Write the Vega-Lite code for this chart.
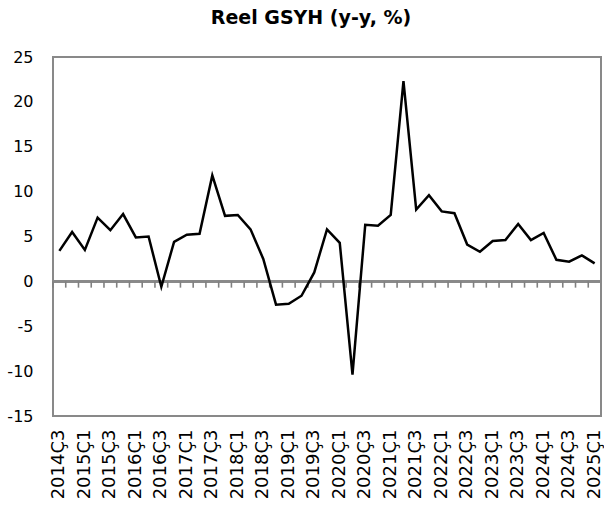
{
  "$schema": "https://vega.github.io/schema/vega-lite/v6.json",
  "autosize": {"type": "none"},
  "width": 548,
  "height": 359,
  "padding": {"left": 53, "top": 57, "right": 3, "bottom": 90},
  "background": "white",
  "title": {
    "text": "Reel GSYH (y-y, %)",
    "font": "DejaVu Sans",
    "fontSize": 19,
    "fontWeight": "bold",
    "color": "#000000",
    "anchor": "middle",
    "baseline": "bottom",
    "offset": 28,
    "dx": -16,
    "dy": 26
  },
  "config": {
    "view": {"stroke": "#898989", "strokeWidth": 2},
    "axis": {"labelFont": "DejaVu Sans", "labelColor": "#000000"}
  },
  "data": {
    "values": [
      {"q": "2014Ç3", "v": 3.4},
      {"q": "2014Ç4", "v": 5.5},
      {"q": "2015Ç1", "v": 3.5},
      {"q": "2015Ç2", "v": 7.1},
      {"q": "2015Ç3", "v": 5.7},
      {"q": "2015Ç4", "v": 7.5},
      {"q": "2016Ç1", "v": 4.9},
      {"q": "2016Ç2", "v": 5.0},
      {"q": "2016Ç3", "v": -0.6},
      {"q": "2016Ç4", "v": 4.4},
      {"q": "2017Ç1", "v": 5.2},
      {"q": "2017Ç2", "v": 5.3},
      {"q": "2017Ç3", "v": 11.8},
      {"q": "2017Ç4", "v": 7.3},
      {"q": "2018Ç1", "v": 7.4},
      {"q": "2018Ç2", "v": 5.8},
      {"q": "2018Ç3", "v": 2.5},
      {"q": "2018Ç4", "v": -2.6},
      {"q": "2019Ç1", "v": -2.5},
      {"q": "2019Ç2", "v": -1.6},
      {"q": "2019Ç3", "v": 1.0},
      {"q": "2019Ç4", "v": 5.8},
      {"q": "2020Ç1", "v": 4.3},
      {"q": "2020Ç2", "v": -10.4},
      {"q": "2020Ç3", "v": 6.3},
      {"q": "2020Ç4", "v": 6.2},
      {"q": "2021Ç1", "v": 7.4},
      {"q": "2021Ç2", "v": 22.3},
      {"q": "2021Ç3", "v": 8.0},
      {"q": "2021Ç4", "v": 9.6},
      {"q": "2022Ç1", "v": 7.8},
      {"q": "2022Ç2", "v": 7.6},
      {"q": "2022Ç3", "v": 4.1},
      {"q": "2022Ç4", "v": 3.3},
      {"q": "2023Ç1", "v": 4.5},
      {"q": "2023Ç2", "v": 4.6},
      {"q": "2023Ç3", "v": 6.4},
      {"q": "2023Ç4", "v": 4.6},
      {"q": "2024Ç1", "v": 5.4},
      {"q": "2024Ç2", "v": 2.4},
      {"q": "2024Ç3", "v": 2.2},
      {"q": "2024Ç4", "v": 2.9},
      {"q": "2025Ç1", "v": 2.0}
    ]
  },
  "encoding": {
    "x": {
      "field": "q",
      "type": "ordinal",
      "sort": null,
      "scale": {"type": "band", "paddingInner": 0, "paddingOuter": 0},
      "axis": {
        "title": null,
        "labelAngle": -90,
        "labelFontSize": 18,
        "labelPadding": 13,
        "ticks": false,
        "domain": false,
        "grid": false,
        "values": ["2014Ç3","2015Ç1","2015Ç3","2016Ç1","2016Ç3","2017Ç1","2017Ç3","2018Ç1","2018Ç3","2019Ç1","2019Ç3","2020Ç1","2020Ç3","2021Ç1","2021Ç3","2022Ç1","2022Ç3","2023Ç1","2023Ç3","2024Ç1","2024Ç3","2025Ç1"]
      }
    }
  },
  "layer": [
    {
      "mark": {"type": "rule", "color": "#898989", "strokeWidth": 2},
      "encoding": {
        "x": null,
        "y": {"datum": 0, "type": "quantitative"}
      }
    },
    {
      "mark": {"type": "rule", "color": "#808080", "strokeWidth": 1.6},
      "encoding": {
        "x": {"field": "q", "type": "ordinal", "sort": null, "bandPosition": 0},
        "y": {"datum": 0, "type": "quantitative"},
        "y2": {"datum": -0.7}
      }
    },
    {
      "mark": {"type": "line", "color": "#000000", "strokeWidth": 2.5, "strokeJoin": "miter"},
      "encoding": {
        "x": {"field": "q", "type": "ordinal", "sort": null, "bandPosition": 0.5},
        "y": {
          "field": "v",
          "type": "quantitative",
          "scale": {"domain": [-15, 25], "nice": false, "zero": false},
          "axis": {
            "title": null,
            "values": [-15, -10, -5, 0, 5, 10, 15, 20, 25],
            "labelExpr": "datum.value < 0 ? '-' + abs(datum.value) : '' + datum.value",
            "labelFontSize": 16,
            "labelPadding": 20,
            "ticks": false,
            "domain": false,
            "grid": false
          }
        }
      }
    }
  ]
}
